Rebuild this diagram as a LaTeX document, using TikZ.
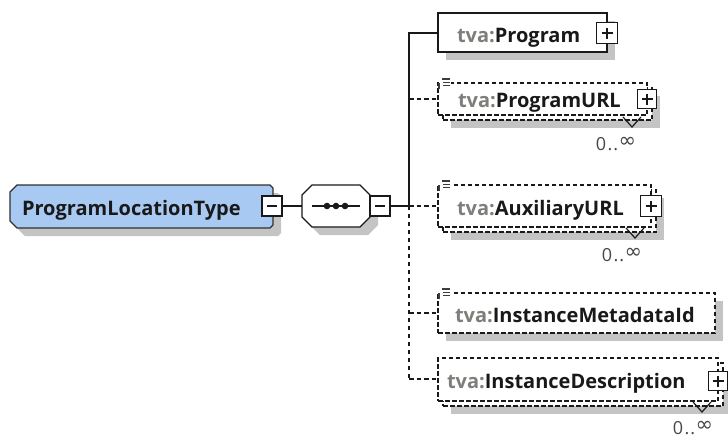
\documentclass[tikz,border=0pt]{standalone}
\usepackage{fontspec}
\setmainfont{Open Sans}
\newfontfamily\symfont{DejaVu Sans}
\usetikzlibrary{shadows}
\definecolor{shadowc}{RGB}{196,196,196}
\definecolor{ctblue}{RGB}{168,202,242}
\definecolor{tvagray}{RGB}{128,126,122}
\definecolor{ink}{RGB}{25,25,25}
\newcommand{\multinf}{0\kern1.5pt.\kern1pt.\kern0.5pt\raisebox{3pt}{\fontsize{21}{22}\symfont ∞}}
\begin{document}
\begin{tikzpicture}[x=1pt,y=-1pt,
  every node/.style={inner sep=0pt, outer sep=0pt},
  anchorbox/.style={rectangle, draw=none},
  solidbox/.style={rectangle, draw=ink, line width=1.3pt, fill=white,
    general shadow={fill=shadowc, shadow xshift=8pt, shadow yshift=-8pt}},
  dashbox/.style={rectangle, draw=ink, line width=1.2pt, dash pattern=on 4.5pt off 2.5pt, fill=white,
    general shadow={fill=shadowc, shadow xshift=8pt, shadow yshift=-8pt}},
  multibox/.style={rectangle, draw=ink, line width=1.2pt, dash pattern=on 4.5pt off 2.5pt, fill=white,
    general shadow={fill=shadowc, draw=none, shadow xshift=13pt, shadow yshift=-13pt},
    general shadow={draw=ink, line width=1.2pt, dash pattern=on 4.5pt off 2.5pt, fill=white, shadow xshift=5pt, shadow yshift=-5pt}},
  pmbox/.style={rectangle, draw=ink, line width=1.3pt, fill=white, minimum size=#1},
  pmbox/.default=21pt,
  lbl/.style={anchor=base west, font=\fontsize{20}{24}\selectfont\bfseries, text=ink},
  mult/.style={anchor=base, font=\fontsize{18}{20}\selectfont, text=ink!80},
  conn/.style={draw=ink, line width=1.2pt},
  dconn/.style={draw=ink, line width=1.2pt, dash pattern=on 4.5pt off 3pt},
  vdconn/.style={draw=ink, line width=1.2pt, dash pattern=on 4pt off 4pt},
  sign/.style={draw=ink, line width=1.1pt},
  chev/.style={draw=ink, line width=1.2pt},
  icon/.style={draw=ink!85, line width=1.4pt}
]
\useasboundingbox (0,0) rectangle (728,437);

% root complex type
\node[anchorbox, minimum width=263pt, minimum height=43pt] (plt) at (141.5,206.5) {};
\fill[shadowc, shift={(8,8)}] (17,185) -- (270,185) -- (273,188) -- (273,225) -- (270,228) -- (17,228) -- (10,221) -- (10,192) -- cycle;
\draw[draw=ink!90, line width=1.4pt, fill=ctblue] (17,185) -- (270,185) -- (273,188) -- (273,225) -- (270,228) -- (17,228) -- (10,221) -- (10,192) -- cycle;
\node[lbl] (pltl) at (22,215) {ProgramLocationType};
\node[pmbox=20pt] (pltm) at (272,206) {};
\draw[sign] ([xshift=-5pt]pltm.center) -- ([xshift=5pt]pltm.center);

% sequence compositor
\node[anchorbox, minimum width=68pt, minimum height=42pt] (seq) at (336,206) {};
\fill[shadowc, shift={(8,8)}] (312,185) -- (360,185) -- (370,195) -- (370,217) -- (360,227) -- (312,227) -- (302,217) -- (302,195) -- cycle;
\draw[draw=ink, line width=1.3pt, fill=white] (312,185) -- (360,185) -- (370,195) -- (370,217) -- (360,227) -- (312,227) -- (302,217) -- (302,195) -- cycle;
\draw[line width=1.2pt, draw=ink] ([xshift=-24pt]seq.center) -- ([xshift=24pt]seq.center);
\foreach \dx in {-9,0,9} \fill[ink] ([xshift=\dx pt]seq.center) circle (3.3pt);
\node[pmbox=20pt] (seqm) at (380,206) {};
\draw[sign] ([xshift=-5pt]seqm.center) -- ([xshift=5pt]seqm.center);

\draw[conn] (pltm.east) -- (seq.west);

% trunk coordinates
\coordinate (t0) at (409,206);
\coordinate (t1) at (409,33);
\coordinate (t2) at (409,99);
\coordinate (t3) at (409,206);
\coordinate (t4) at (409,313);
\coordinate (t5) at (409,379);

% children
\node[solidbox, minimum width=169pt, minimum height=39pt] (prog) at (522.5,32.5) {};
\node[lbl] (progl) at (457,42) {\textcolor{tvagray}{tva:}Program};

\node[multibox, minimum width=209pt, minimum height=32pt] (purl) at (542.5,99) {};
\node[lbl] (purll) at (458,107) {\textcolor{tvagray}{tva:}ProgramURL};

\node[multibox, minimum width=213pt, minimum height=42pt] (aurl) at (544.5,206) {};
\node[lbl] (aurll) at (457,215) {\textcolor{tvagray}{tva:}AuxiliaryURL};

\node[dashbox, minimum width=277pt, minimum height=40pt] (imid) at (576.5,313) {};
\node[lbl] (imidl) at (455,322) {\textcolor{tvagray}{tva:}InstanceMetadataId};

\node[multibox, minimum width=280pt, minimum height=43pt] (idesc) at (578,379.5) {};
\node[lbl] (idescl) at (447,388) {\textcolor{tvagray}{tva:}InstanceDescription};

% connectors
\draw[conn] (seqm.east) -- (t0);
\draw[conn] (t0) -- (t1) -- (t1 -| prog.west);
\draw[dconn] (t2) -- (t2 -| purl.west);
\draw[dconn] (t3) -- (t3 -| aurl.west);
\draw[dconn] (t4) -- (t4 -| imid.west);
\draw[vdconn] (t0) -- (t5);
\draw[dconn] (t5) -- (t5 -| idesc.west);

% plus boxes
\node[pmbox] (progp) at (607,33) {};
\node[pmbox=19pt] (purlp) at (647,99) {};
\node[pmbox] (aurlp) at (651,206) {};
\node[pmbox=19pt] (idescp) at (718,381) {};
\foreach \n in {progp,purlp,aurlp,idescp}{
  \draw[sign] ([xshift=-5.5pt]\n.center) -- ([xshift=5.5pt]\n.center);
  \draw[sign] ([yshift=-5.5pt]\n.center) -- ([yshift=5.5pt]\n.center);
}

% multiplicity chevrons and labels
\draw[chev] (623,117) -- (632,127) -- (641,117);
\draw[chev] (626,228) -- (635,238) -- (644,228);
\draw[chev] (693,402) -- (702,412) -- (711,402);
\node[mult] (m1) at (616,150) {\multinf};
\node[mult] (m2) at (622,261) {\multinf};
\node[mult] (m3) at (693,434) {\multinf};

% small icons
\foreach \y in {79,181,289}{
  \fill[white] (438.5,\y-2) rectangle (451,\y+9);
  \draw[icon] (442,\y) -- (450,\y);
  \draw[icon] (443,\y+3.2) -- (450,\y+3.2);
  \draw[icon] (443,\y+6.4) -- (450,\y+6.4);
  \draw[icon] (439,\y+4) -- (439,\y+10);
}
\end{tikzpicture}
\end{document}
